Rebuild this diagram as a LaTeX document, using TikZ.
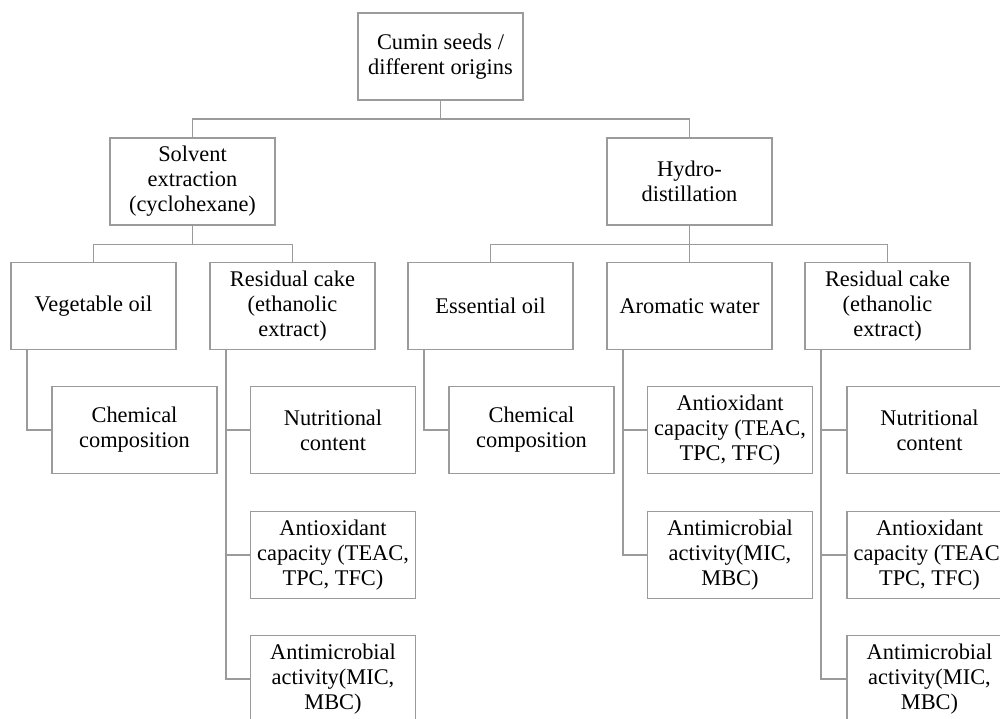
\documentclass[tikz,border=0pt]{standalone}
\usepackage{fontspec}
\setmainfont{Liberation Serif}
\definecolor{lc}{RGB}{155,155,155}
\tikzset{
  box/.style={draw=lc, line width=1.8pt, rectangle, minimum width=165pt, minimum height=87pt,
    align=center, inner sep=1pt, font=\fontsize{22.4}{25}\selectfont, text=black},
  conn/.style={draw=lc, line width=1.8pt}
}
\begin{document}
\begin{tikzpicture}[x=1pt,y=-1pt]
\useasboundingbox (0,0) rectangle (1000,719);
\fill[white] (0,0) rectangle (1000,719);
\clip (0,0) rectangle (1000,719);
% level 0
\node[box] (root) at (440.5,56.5) {Cumin seeds /\\different origins};
% level 1
\node[box] (solv) at (192.5,181.5) {Solvent\\extraction\\(cyclohexane)};
\node[box] (hydro) at (689.5,181.5) {Hydro-\\distillation};
% level 2
\node[box] (veg) at (93.5,306) {Vegetable oil};
\node[box] (resL) at (292.5,306) {Residual cake\\(ethanolic\\extract)};
\node[box] (ess) at (490.5,306) {Essential oil};
\node[box] (aro) at (689.5,306) {Aromatic water};
\node[box] (resR) at (887.5,306) {Residual cake\\(ethanolic\\extract)};
% level 3
\node[box] (chemL) at (134.5,430) {Chemical\\composition};
\node[box] (nutL) at (333,430) {Nutritional\\content};
\node[box] (aoL) at (333,555) {Antioxidant\\capacity (TEAC,\\TPC, TFC)};
\node[box] (amL) at (333,679) {Antimicrobial\\activity(MIC,\\MBC)};
\node[box] (chemR) at (531.5,430) {Chemical\\composition};
\node[box] (aoA) at (730,430) {Antioxidant\\capacity (TEAC,\\TPC, TFC)};
\node[box] (amA) at (730,555) {Antimicrobial\\activity(MIC,\\MBC)};
\node[box] (nutR) at (929.5,430) {Nutritional\\content};
\node[box] (aoR) at (929.5,555) {Antioxidant\\capacity (TEAC,\\TPC, TFC)};
\node[box] (amR) at (929.5,679) {Antimicrobial\\activity(MIC,\\MBC)};
% connectors level 0 -> 1
\draw[conn] (root.south) -- ++(0,18.5) -| (solv.north);
\draw[conn] (root.south) -- ++(0,18.5) -| (hydro.north);
% level 1 -> 2
\draw[conn] (solv.south) -- ++(0,18.5) -| (veg.north);
\draw[conn] (solv.south) -- ++(0,18.5) -| (resL.north);
\draw[conn] (hydro.south) -- ++(0,18.5) -| (ess.north);
\draw[conn] (hydro.south) -- (aro.north);
\draw[conn] (hydro.south) -- ++(0,18.5) -| (resR.north);
% level 2 -> 3
\draw[conn] ([xshift=16.5pt]veg.south west) |- (chemL.west);
\draw[conn] ([xshift=16.5pt]resL.south west) |- (nutL.west);
\draw[conn] ([xshift=16.5pt]resL.south west) |- (aoL.west);
\draw[conn] ([xshift=16.5pt]resL.south west) |- (amL.west);
\draw[conn] ([xshift=16.5pt]ess.south west) |- (chemR.west);
\draw[conn] ([xshift=16.5pt]aro.south west) |- (aoA.west);
\draw[conn] ([xshift=16.5pt]aro.south west) |- (amA.west);
\draw[conn] ([xshift=16.5pt]resR.south west) |- (nutR.west);
\draw[conn] ([xshift=16.5pt]resR.south west) |- (aoR.west);
\draw[conn] ([xshift=16.5pt]resR.south west) |- (amR.west);
\end{tikzpicture}
\end{document}
